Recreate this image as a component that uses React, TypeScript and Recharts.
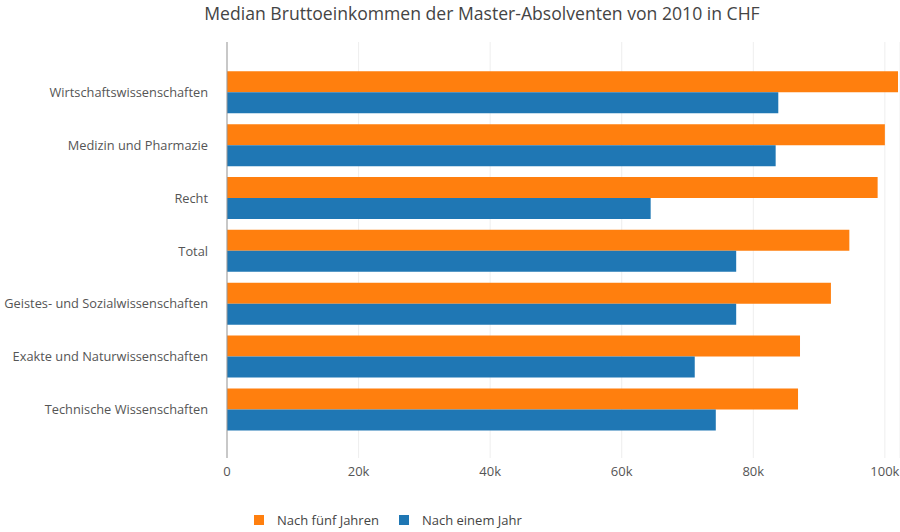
import { Bar, BarChart, CartesianGrid, XAxis, YAxis } from 'recharts';

const categories = [
  'Wirtschaftswissenschaften',
  'Medizin und Pharmazie',
  'Recht',
  'Total',
  'Geistes- und Sozialwissenschaften',
  'Exakte und Naturwissenschaften',
  'Technische Wissenschaften',
];
const nachFuenfJahren = [102000, 100000, 98900, 94600, 91800, 87100, 86800];
const nachEinemJahr = [83800, 83400, 64400, 77400, 77400, 71100, 74300];
const xTicks = [0, 20000, 40000, 60000, 80000, 100000];

const data = categories.map((name, i) => ({
  name,
  five: nachFuenfJahren[i],
  one: nachEinemJahr[i],
}));

const FONT = '"Open Sans", sans-serif';

const legendItems = [
  { label: 'Nach fünf Jahren', color: '#ff7f0e' },
  { label: 'Nach einem Jahr', color: '#1f77b4' },
];

export default function App() {
  return (
    <div style={{ position: 'absolute', left: 0, top: 0, width: 900, height: 532, background: '#fff' }}>
      <div
        style={{
          position: 'absolute',
          top: 0,
          left: 0,
          width: 964,
          textAlign: 'center',
          fontFamily: FONT,
          fontSize: 17.6,
          color: '#444',
          lineHeight: '26px',
        }}
      >
        Median Bruttoeinkommen der Master-Absolventen von 2010 in CHF
      </div>
      <BarChart
        width={900}
        height={532}
        data={data}
        layout='vertical'
        margin={{ top: 42, right: 0, bottom: 44, left: 0 }}
        barCategoryGap='10%'
        barGap={0}
      >
        <CartesianGrid horizontal={false} stroke='#eee' />
        <XAxis
          type='number'
          domain={[0, 102300]}
          ticks={xTicks}
          tickFormatter={v => (v === 0 ? '0' : `${v / 1000}k`)}
          axisLine={false}
          tickLine={false}
          height={30}
          tick={{ fill: '#555', fontSize: 13, fontFamily: FONT }}
          tickMargin={3}
        />
        <YAxis
          type='category'
          dataKey='name'
          width={227}
          axisLine={{ stroke: '#999' }}
          tickLine={false}
          tickMargin={13}
          padding={{ top: 24, bottom: 22 }}
          tick={{ fill: '#555', fontSize: 12.8, fontFamily: FONT }}
        />
        <Bar dataKey='five' name='Nach fünf Jahren' fill='#ff7f0e' isAnimationActive={false} />
        <Bar dataKey='one' name='Nach einem Jahr' fill='#1f77b4' isAnimationActive={false} />
      </BarChart>
      <div
        style={{
          position: 'absolute',
          left: 254,
          top: 511,
          display: 'flex',
          alignItems: 'center',
          fontFamily: FONT,
          fontSize: 13,
          color: '#444',
        }}
      >
        {legendItems.map(it => (
          <div key={it.label} style={{ display: 'flex', alignItems: 'center', marginRight: 20 }}>
            <span style={{ width: 10, height: 10, background: it.color, display: 'inline-block', marginRight: 13 }} />
            <span>{it.label}</span>
          </div>
        ))}
      </div>
    </div>
  );
}
